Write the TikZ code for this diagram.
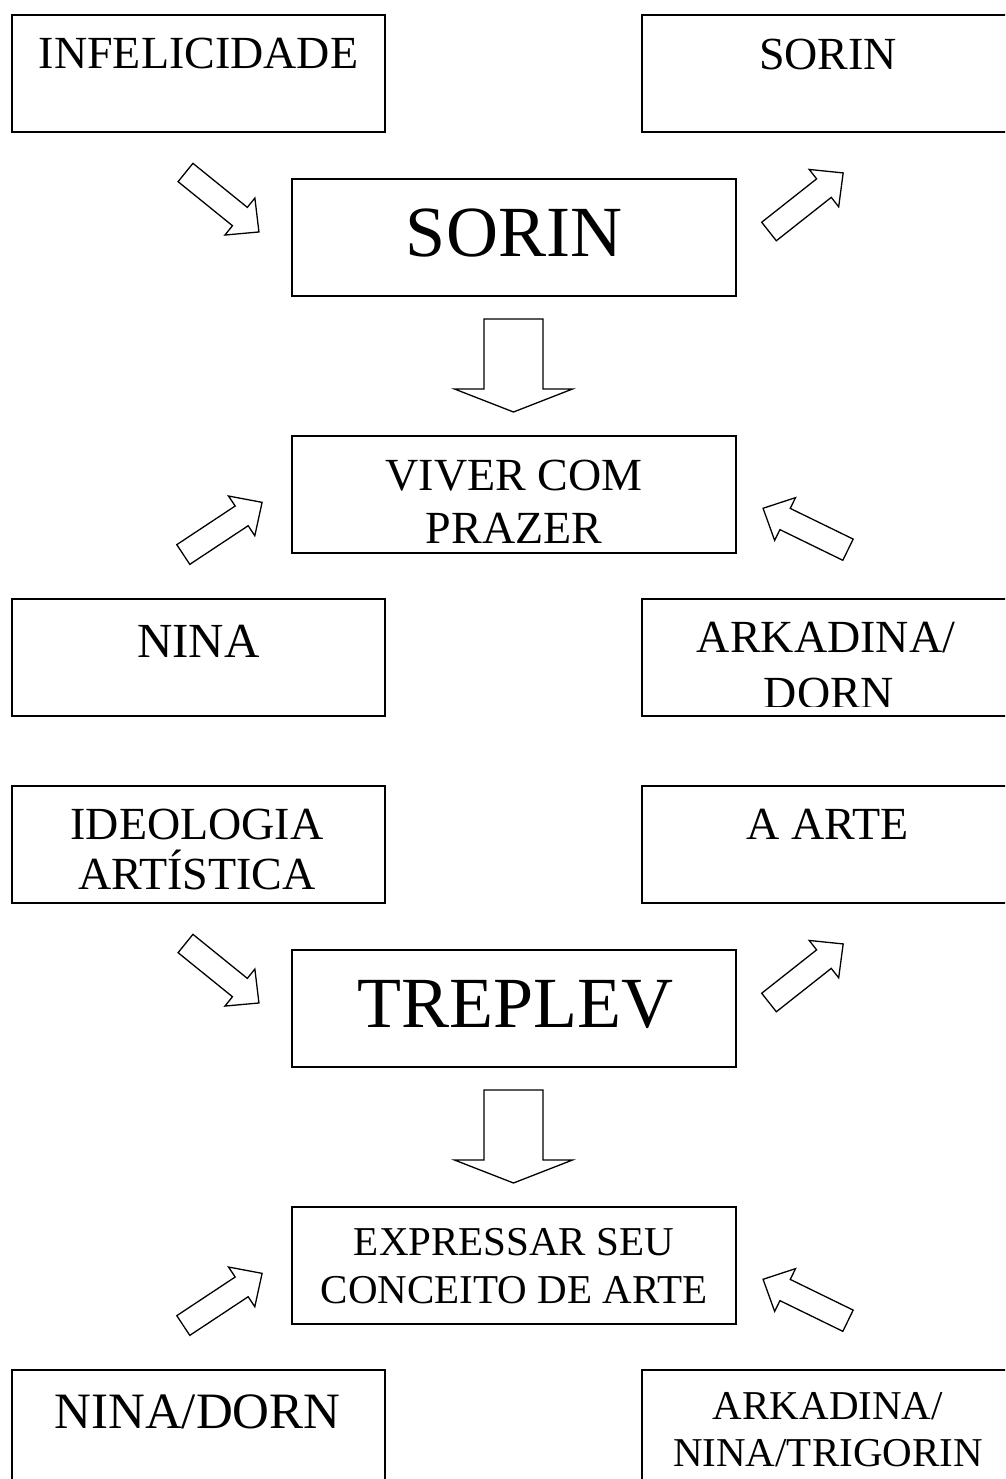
\documentclass[tikz,border=0pt]{standalone}
\usepackage{fontspec}
\setmainfont{Liberation Serif}
\begin{document}
\begin{tikzpicture}[x=1pt,y=-1pt,
  box/.style={draw=black, line width=1.5pt, minimum width=373pt, minimum height=117pt,
              anchor=north west, inner sep=0pt, outer sep=0pt},
  cbox/.style={box, minimum width=444pt},
  arr/.style={draw=black, line width=1.3pt, line join=miter, fill=white},
  lbl/.style={anchor=base, inner sep=0pt, font=\fontsize{46}{50}\selectfont},
  big/.style={anchor=base, inner sep=0pt, font=\fontsize{72}{80}\selectfont},
  small/.style={anchor=base, inner sep=0pt, font=\fontsize{41}{46}\selectfont},
  diagarrow/.pic={\path[arr] (0,-11.8) -- (70,-11.8) -- (70,-23.8) -- (94.5,0) -- (70,23.8) -- (70,11.8) -- (0,11.8) -- cycle;},
  downarrow/.pic={\path[arr] (0,-29.5) -- (70,-29.5) -- (70,-59) -- (93,0) -- (70,59) -- (70,29.5) -- (0,29.5) -- cycle;}
]
\useasboundingbox (0,0) rectangle (1005,1479);
\clip (0,0) rectangle (1005,1479);

% ---------- first section ----------
\node[box]  (infel)   at (12,15)  {};
\node[box]  (sorinR)  at (642,15) {};
\node[cbox] (sorin)   at (292,179) {};
\node[cbox] (viver)   at (292,436) {};
\node[box]  (nina)    at (12,599) {};
\node[box]  (arkdorn) at (642,599) {};

\node[lbl] (infel-t)  at (198.5,69) {INFELICIDADE};
\node[lbl] (sorinR-t) at (828,70) {SORIN};
\node[big] (sorin-t)  at (514,257) {SORIN};
\node[lbl] (viver-t1) at (514,490) {VIVER COM};
\node[lbl] (viver-t2) at (514,543) {PRAZER};
\node[lbl,font=\fontsize{49}{54}\selectfont] (nina-t) at (198.5,657) {NINA};
\node[lbl] (arkdorn-t1) at (826,652) {ARKADINA/};
\begin{scope}
  \clip (642,670) rectangle (1005,706.5);
  \node[lbl] (arkdorn-t2) at (829,708) {DORN};
\end{scope}

\coordinate (a1) at (185.5,172.5);
\coordinate (a2) at (769,231.5);
\coordinate (a3) at (183.3,554.5);
\coordinate (a4) at (848,549.7);
\coordinate (d1) at (513.5,319);
\pic[rotate=-39]  at (a1) {diagarrow};
\pic[rotate=38.3] at (a2) {diagarrow};
\pic[rotate=33.5] at (a3) {diagarrow};
\pic[rotate=154]  at (a4) {diagarrow};
\pic[rotate=-90]  at (d1) {downarrow};

% ---------- second section ----------
\node[box]  (ideol)    at (12,786)  {};
\node[box]  (arte)     at (642,786) {};
\node[cbox] (treplev)  at (292,950) {};
\node[cbox] (expr)     at (292,1207) {};
\node[box]  (ninadorn) at (12,1370) {};
\node[box]  (arknt)    at (642,1370) {};

\node[lbl] (ideol-t1) at (197,839) {IDEOLOGIA};
\node[lbl] (ideol-t2) at (197,889) {ARTÍSTICA};
\node[lbl] (arte-t)   at (828,839) {A ARTE};
\node[big] (treplev-t) at (515,1027) {TREPLEV};
\node[small] (expr-t1) at (514,1255) {EXPRESSAR SEU};
\node[small] (expr-t2) at (514,1303) {CONCEITO DE ARTE};
\node[lbl,font=\fontsize{51}{56}\selectfont] (ninadorn-t) at (197.5,1428) {NINA/DORN};
\node[small] (arknt-t1) at (828,1419) {ARKADINA/};
\node[small] (arknt-t2) at (828,1466) {NINA/TRIGORIN};

\coordinate (b1) at (185.5,943.5);
\coordinate (b2) at (769,1002.5);
\coordinate (b3) at (183.3,1325.5);
\coordinate (b4) at (848,1320.7);
\coordinate (d2) at (513.5,1090);
\pic[rotate=-39]  at (b1) {diagarrow};
\pic[rotate=38.3] at (b2) {diagarrow};
\pic[rotate=33.5] at (b3) {diagarrow};
\pic[rotate=154]  at (b4) {diagarrow};
\pic[rotate=-90]  at (d2) {downarrow};
\end{tikzpicture}
\end{document}
